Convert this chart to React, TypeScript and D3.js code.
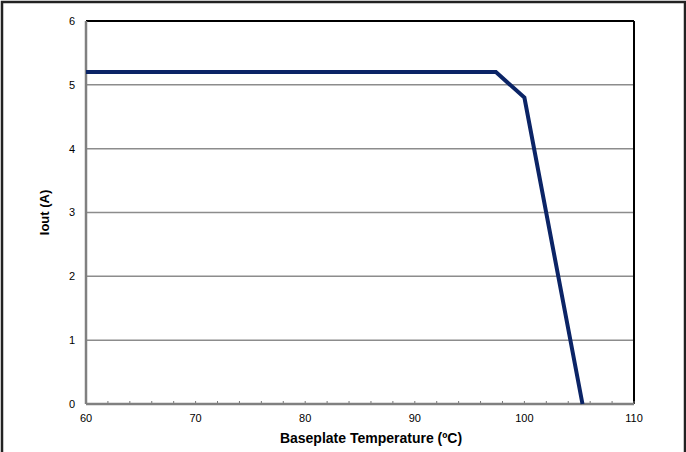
import React from "react";
import * as d3 from "d3";

const tempX = [60, 97.4, 100, 105.3];
const currentY = [5.2, 5.2, 4.8, 0];
const xTicks = [60, 70, 80, 90, 100, 110];
const yTicks = [0, 1, 2, 3, 4, 5, 6];
const xMinor = d3.range(60, 111, 2);

export default function App() {
  const W = 686, H = 452;
  const L = 86, R = 634, T = 21, B = 404;
  const x = d3.scaleLinear().domain([60, 110]).range([L, R]);
  const y = d3.scaleLinear().domain([0, 6]).range([B, T]);
  const pts = tempX.map((t, i) => [t, currentY[i]] as [number, number]);
  const line = d3.line<[number, number]>().x(d => x(d[0])).y(d => y(d[1]));
  const font = "'Liberation Sans', Arial, sans-serif";
  return (
    <svg width={W} height={H} style={{ position: "absolute", left: 0, top: 0 }}>
      <rect x={0} y={0} width={W} height={H} fill="#fff" />
      <rect x={2} y={2} width={W - 3} height={H + 10} fill="none" stroke="#222" strokeWidth={2.5} />
      {yTicks.filter(v => v > 0 && v < 6).map(v => (
        <line key={v} x1={L} x2={R} y1={y(v)} y2={y(v)} stroke="#8c8c8c" strokeWidth={1.5} />
      ))}
      <line x1={L} x2={R} y1={T} y2={T} stroke="#000" strokeWidth={2} />
      <line x1={R} x2={R} y1={T} y2={B} stroke="#000" strokeWidth={2} />
      {xMinor.map(v => (
        <line key={v} x1={x(v)} x2={x(v)} y1={B} y2={B - 3} stroke="#777" strokeWidth={1} />
      ))}
      <line x1={L} x2={L} y1={T} y2={B} stroke="#808080" strokeWidth={2.5} />
      <line x1={L} x2={R} y1={B} y2={B} stroke="#808080" strokeWidth={2.5} />
      <path d={line(pts) || ""} fill="none" stroke="#0b2466" strokeWidth={4} strokeLinejoin="miter" />
      {yTicks.map(v => (
        <text key={v} x={75} y={y(v)} dy="0.35em" textAnchor="end" fontFamily={font} fontSize={11} fill="#000">{v}</text>
      ))}
      {xTicks.map(v => (
        <text key={v} x={x(v)} y={422} textAnchor="middle" fontFamily={font} fontSize={11} fill="#000">{v}</text>
      ))}
      <text x={371} y={443} textAnchor="middle" fontFamily={font} fontSize={14} fontWeight="bold" fill="#000">Baseplate Temperature (ºC)</text>
      <text transform={`translate(49,${(T + B) / 2}) rotate(-90)`} textAnchor="middle" fontFamily={font} fontSize={13} fontWeight="bold" fill="#000">Iout (A)</text>
    </svg>
  );
}
